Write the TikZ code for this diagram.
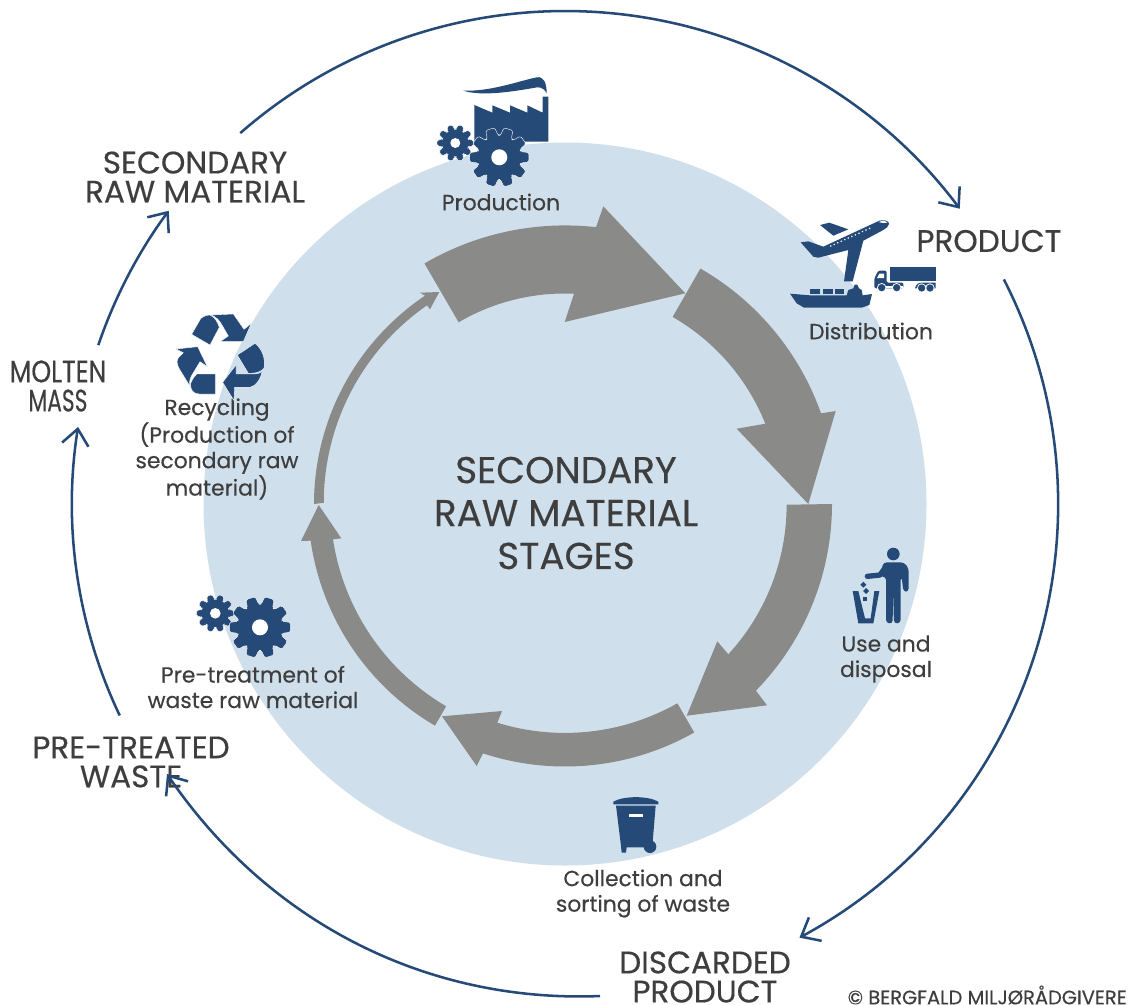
\documentclass[tikz,border=0pt]{standalone}
\usepackage{fontspec}
\usepackage{graphicx}
\setmainfont{Poppins}[RawFeature={embolden=0.35}]
\usetikzlibrary{arrows.meta}
\definecolor{navy}{HTML}{254A78}
\definecolor{discblue}{HTML}{CFE0EC}
\definecolor{flowgray}{HTML}{8A8A88}
\definecolor{ink}{HTML}{3E3E3E}
\def\C{565,-504}
\tikzset{
  big/.style={text=ink,align=center,inner sep=0pt,font=\fontsize{23.3}{21.8}\selectfont},
  huge/.style={text=ink,align=center,inner sep=0pt,font=\fontsize{28}{32.2}\selectfont},
  small/.style={text=ink,align=center,inner sep=0pt,font=\fontsize{16.4}{19.1}\selectfont},
  flowarrow/.style={draw=navy,line width=1.9pt,-{Straight Barb[length=12pt,width=20pt,line width=1.9pt]}},
  grayflow/.style={fill=flowgray},
  icon/.style={fill=navy},
  iconw/.style={fill=navy,draw=white,line width=.3pt},
  hole/.style={fill=white}
}
\newcommand\gearicon[5]{%
  \begin{scope}[shift={(#1,#2)}]
  \path[fill=navy,draw=white,line width=.3pt,rounded corners=1.2pt] (-15:#4)
    \foreach \a in {0,36,...,324} {
      -- (\a-15:#4) -- (\a-9:#3) -- (\a+9:#3) -- (\a+15:#4)
    } -- cycle;
  \fill[hole] (0,0) circle (#5);
  \end{scope}}
\begin{document}
\begin{tikzpicture}[x=0.75pt,y=0.75pt]
\useasboundingbox (0,0) rectangle (1131,-1004);
\fill[white] (0,0) rectangle (1131,-1004);
\fill[discblue] (\C) circle (361.5);

% grey stage arrows
\fill[grayflow] ([shift={(\C)}]120.3:278.6) arc[start angle=120.3,end angle=83.6,radius=278.6]
  -- (603.3,-206.3) -- (685.3,-293.3) -- (564.7,-322) -- (574,-293.7)
  arc[start angle=87.5,end angle=120.3,radius=210.5] -- cycle;
\fill[grayflow] ([shift={(\C)}]60.1:271.6) arc[start angle=60.1,end angle=19.5,radius=271.6]
  -- (835.7,-411) -- (808.3,-504) -- (736.7,-428.7) -- (765.3,-423.7)
  arc[start angle=21.8,end angle=60.1,radius=215.5] -- cycle;
\fill[grayflow] ([shift={(\C)}]0:267) arc[start angle=0,end angle=-44.35,radius=267]
  -- (767,-705.3) -- (686.7,-715.7) -- (717.3,-641.3) -- (728.3,-654.3)
  arc[start angle=-42.6,end angle=0,radius=221] -- cycle;
\fill[grayflow] ([shift={(\C)}]-60.5:262.5) arc[start angle=-60.5,end angle=-108.2,radius=262.5]
  -- (476.7,-766) -- (442,-716.3) -- (502,-711) -- (497.3,-722.7)
  arc[start angle=-107.2,end angle=-60.5,radius=228.5] -- cycle;
\fill[grayflow] ([shift={(\C)}]239.6:257) arc[start angle=239.6,end angle=188.2,radius=257]
  -- (301,-541) -- (318.7,-505) -- (341.3,-538.3) -- (333,-539.3)
  arc[start angle=188.65,end angle=239.6,radius=234.5] -- cycle;
\fill[grayflow] ([shift={(\C)}]180:251) arc[start angle=180,end angle=123.9,radius=251]
  -- (420,-292.7) -- (439.3,-292) -- (430,-309.3) -- (427,-305.3)
  arc[start angle=124.8,end angle=180,radius=240.5] -- cycle;

\begin{scope}[yscale=-1]
% labels
\node[big] (secraw) at (195,177) {SECONDARY\\RAW MATERIAL};
\node[big] (product) at (989,241) {PRODUCT};
\node[big] (molten) at (58,386) {\scalebox{.81}[1]{MOLTEN}\\\scalebox{.7}[1]{MASS}};
\node[big] (pretreated) at (131,762) {PRE-TREATED\\WASTE};
\node[big] (discarded) at (705,977) {DISCARDED\\PRODUCT};
\node[huge] (centre) at (566,513) {SECONDARY\\RAW MATERIAL\\STAGES};
\node[small] (production) at (501,202) {Production};
\node[small] (distribution) at (871,331) {Distribution};
\node[small] (recycling) at (217,449) {Recycling\\(Production of\\secondary raw\\material)};
\node[small] (use) at (886,659) {Use and\\disposal};
\node[small] (collection) at (643,893.5) {Collection and\\sorting of waste};
\node[small] (pretreatment) at (253,687) {Pre-treatment of\\waste raw material};
\node[text=ink,anchor=east,inner sep=0pt,font=\fontsize{14.6}{15}\selectfont] (copyright) at (1127,995) {© BERGFALD MILJØRÅDGIVERE};

% factory
\begin{scope}[shift={(420,60)},scale=1/3]
\fill[icon] (163,135) -- (217,158) -- (217,136) -- (270,158) -- (270,136) -- (322,158) -- (322,136) -- (368,158) -- (368,110) -- (385,110) -- (385,245) -- (163,245) -- cycle;
\fill[icon] (130,92) .. controls (210,95) and (290,65) .. (350,52) .. controls (372,48) and (380,70) .. (380,100) .. controls (370,80) and (355,80) .. (340,84) .. controls (260,98) and (180,108) .. (130,92) -- cycle;
\end{scope}
\gearicon{455.3}{143}{18.5}{13.5}{5}
\gearicon{499.3}{157.3}{30}{22}{8}

% distribution
\begin{scope}[shift={(780,200)},scale=1/3]
\fill[icon] (120,75) -- (148,68) -- (205,88) -- (160,107) -- cycle;
\fill[icon] (62,127) -- (85,124) -- (130,140) -- (298,62) .. controls (315,58) and (328,64) .. (327,72) .. controls (326,80) and (318,85) .. (310,90) -- (250,122) -- (218,244) -- (192,244) -- (205,150) -- (115,173) -- (100,170) -- cycle;
\foreach \t in {0,...,11} \fill[white] ({152+\t*10.6},{138-\t*4.8}) circle (2.6);
\fill[white] (296,66) .. controls (305,61) and (318,62) .. (322,68) .. controls (312,70) and (303,69) .. (296,66) -- cycle;
% truck
\fill[icon] (331,200) rectangle (467,243);
\fill[icon,rounded corners=1pt] (283,265) -- (283,235) -- (295,212) -- (320,212) -- (320,248) -- (370,248) -- (370,265) -- cycle;
\fill[white] (291,234) -- (298,221) -- (312,221) -- (312,234) -- cycle;
\fill[icon] (405,265) .. controls (408,253) and (415,248) .. (425,248) -- (467,248) -- (467,265) -- cycle;
\fill[white] (318,265) -- (370,265) -- (370,258) -- (318,258) -- cycle;
\fill[white] (409,268) .. controls (412,255) and (460,252) .. (464,268) -- cycle;
\foreach \wx/\wy in {305/263,350/263,425/264,450/264} {
  \fill[white] (\wx,\wy) circle (14);
  \fill[icon] (\wx,\wy) circle (11);
}
% ship
\fill[icon] (30,281) -- (90,286) -- (200,286) -- (205,270) -- (220,265) -- (224,254) -- (232,254) -- (237,265) -- (245,270) -- (248,286) -- (276,282) -- (268,315) -- (245,323) -- (72,323) -- (50,310) -- cycle;
\fill[icon] (90,266) rectangle (120,283);
\fill[icon] (128,266) rectangle (158,283);
\fill[icon] (166,266) rectangle (192,283);
\end{scope}

% recycling
\begin{scope}[shift={(160,300)},scale=1/3]
\path[iconw] (95,103) -- (122,56) .. controls (130,48) and (142,45) .. (150,45) .. controls (165,52) and (172,65) .. (178,82) -- (150,135) -- cycle;
\path[iconw] (152,45) -- (220,42) -- (252,88) -- (274,70) -- (250,125) -- (180,125) -- (205,108) -- (186,75) .. controls (178,60) and (168,50) .. (152,45) -- cycle;
\path[iconw] (48,147) -- (113,140) -- (142,200) -- (120,185) -- (94,228) .. controls (88,240) and (87,250) .. (92,262) -- (60,210) .. controls (48,190) and (50,180) .. (56,172) -- (70,158) -- cycle;
\path[iconw] (110,222) -- (167,222) -- (167,282) -- (118,282) .. controls (100,282) and (90,270) .. (92,250) .. controls (95,240) and (102,232) .. (110,222) -- cycle;
\path[iconw] (232,165) -- (285,130) .. controls (305,145) and (318,175) .. (312,205) .. controls (300,218) and (285,220) .. (265,220) -- cycle;
\path[iconw] (228,195) -- (228,222) -- (285,222) .. controls (295,222) and (302,218) .. (307,213) .. controls (302,235) and (290,258) .. (270,262) -- (224,262) -- (222,302) -- (188,247) -- cycle;
\end{scope}

% person and bin
\begin{scope}[shift={(830,535)},scale=1/3]
\fill[icon] (190,57) circle (19);
\draw[navy,line width=4pt,line cap=round,line join=round] (112,124) -- (150,120) -- (170,92);
\fill[icon,rounded corners=2.5pt] (160,82) -- (222,82) -- (236,100) -- (236,170) -- (220,170) -- (215,125) -- (212,125) -- (212,264) -- (192,266) -- (189,165) -- (188,266) -- (168,264) -- (168,125) -- (150,125) -- cycle;
\fill[icon] (68,168) -- (85,168) -- (105,250) -- (122,250) -- (133,168) -- (148,168) -- (130,265) -- (85,265) -- cycle;
\fill[icon] (100,140) -- (109,149) -- (100,158) -- (91,149) -- cycle;
\fill[icon] (108,159) -- (117,168) -- (108,177) -- (99,168) -- cycle;
\fill[icon] (98,186) rectangle (112,199);
\end{scope}

% wheelie bin
\begin{scope}[shift={(590,785)},scale=1/3]
\fill[icon] (70,50) .. controls (100,32) and (175,32) .. (205,50) -- (205,58) -- (70,58) -- cycle;
\fill[icon] (78,62) -- (197,62) -- (188,170) -- (180,187) -- (110,187) -- (108,203) -- (95,203) -- (92,175) -- cycle;
\fill[icon] (180,185) circle (19);
\fill[white] (116,87) rectangle (158,95);
\end{scope}

% gears
\gearicon{215.3}{613.3}{19}{14}{5.3}
\gearicon{260}{627.3}{31}{23}{8}
\end{scope}

% outer flow connectors
\coordinate (a1) at ([shift={(\C)}]131.2:493);
\coordinate (b1) at ([shift={(\C)}]27.1:493);
\coordinate (c1) at (600,-996);
\coordinate (c2) at (167,-774);
\coordinate (d1) at ([shift={(\C)}]205.4:493);
\coordinate (e1) at ([shift={(\C)}]161.2:493);
\draw[flowarrow] (a1) arc[start angle=131.2,end angle=36.8,radius=493];
\draw[flowarrow] (b1) arc[start angle=27.1,end angle=-61.6,radius=493];
\draw[flowarrow] (c1) .. controls (430,-1003) and (270,-925) .. (c2);
\draw[flowarrow] (d1) arc[start angle=205.4,end angle=171,radius=493];
\draw[flowarrow] (e1) arc[start angle=161.2,end angle=143.5,radius=493];
\end{tikzpicture}
\end{document}
